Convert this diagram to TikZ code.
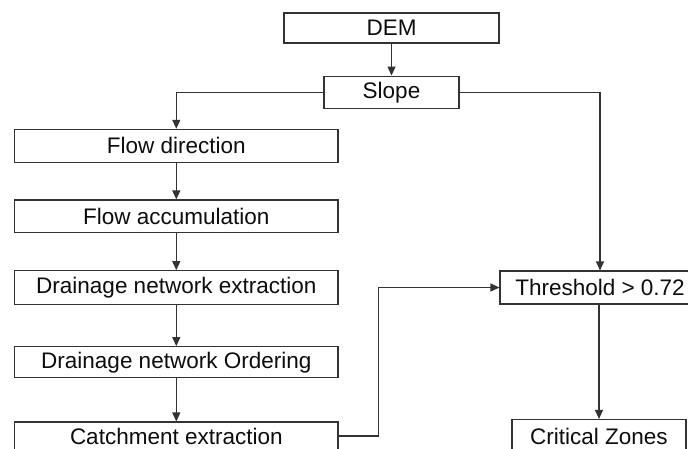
\documentclass[tikz,border=0pt]{standalone}
\usepackage{fontspec}
\setmainfont{Liberation Sans}
\usetikzlibrary{arrows.meta}
\begin{document}
\begin{tikzpicture}[x=1pt,y=-1pt,
  box/.style={draw=black!80, line width=1.1pt, fill=white, inner sep=0pt,
    font=\fontsize{22.5}{27}\selectfont, text=black!95},
  conn/.style={draw=black!80, line width=1.1pt, -{Triangle[length=9pt,width=8pt]}},
  plain/.style={draw=black!80, line width=1.1pt}]
\clip (0,0) rectangle (688,448);
\fill[white] (0,0) rectangle (688,448);
% nodes
\node[box, minimum width=215pt, minimum height=30pt] (dem) at (391.5,28) {DEM};
\node[box, minimum width=135pt, minimum height=32.5pt] (slope) at (391.5,92.3) {Slope};
\node[box, minimum width=323.3pt, minimum height=33pt] (fd) at (176.3,145.8) {Flow direction};
\node[box, minimum width=323.3pt, minimum height=32.7pt] (fa) at (176.3,216.3) {Flow accumulation};
\node[box, minimum width=323.3pt, minimum height=33.6pt] (dne) at (176.3,287.5) {Drainage network extraction};
\node[box, minimum width=323.3pt, minimum height=31pt] (dno) at (176.3,362.2) {Drainage network Ordering};
\node[box, minimum width=323.3pt, minimum height=28pt] (ce) at (176.3,436) {Catchment extraction};
\node[box, minimum width=200pt, minimum height=33pt] (th) at (600,287.5) {Threshold > 0.72};
\node[box, minimum width=174pt, minimum height=33pt] (cz) at (599,436) {Critical Zones};
% connectors
\draw[conn] (dem.south) -- (slope.north);
\draw[conn] (slope.west) -| (fd.north);
\draw[conn] (slope.east) -| (th.north);
\draw[conn] (fd) -- (fa);
\draw[conn] (fa) -- (dne);
\draw[conn] (dne) -- (dno);
\draw[conn] (dno) -- (ce);
\coordinate (bend) at (378.7,436);
\draw[conn] (ce.east |- bend) -- (bend) |- (th.west);
\draw[conn] (th.south -| cz.north) -- (cz.north);
\end{tikzpicture}
\end{document}
